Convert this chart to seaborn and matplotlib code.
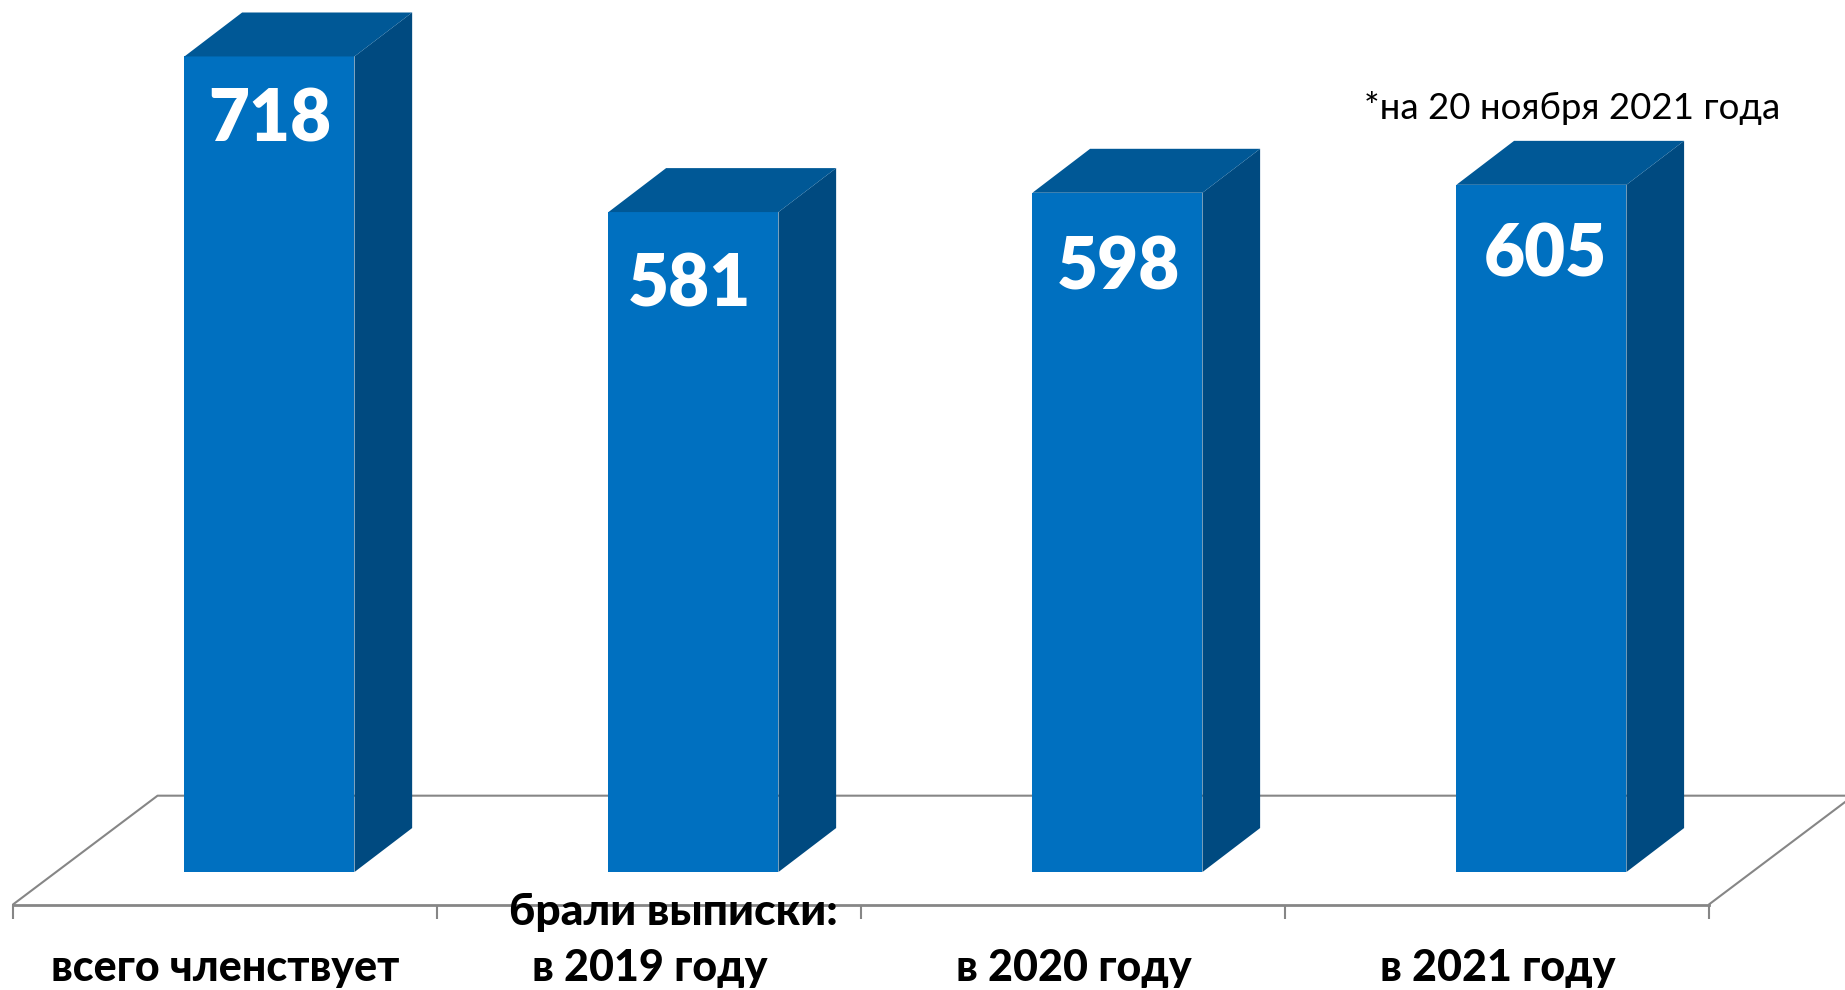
import pandas as pd
import matplotlib.pyplot as plt
import seaborn as sns

categories = ["всего членствует", "в 2019 году", "в 2020 году", "в 2021 году"]
values = [718, 581, 598, 605]
header = "брали выписки:"
note = "*на 20 ноября 2021 года"

# colours of the three faces
FRONT = "#0070C0"
SIDE = "#004A80"
TOP = "#005896"
FLOOR = "#868686"

# fake 3D depth, in data units
DEPTH_X = 0.136
DEPTH_Y = 38.7
FLOOR_Y = -28.6
FLOOR_BACK_Y = 67.2
FLOOR_LEFT = -0.605
FLOOR_DX = 0.341
SLOT_SHIFT = 0.104

# offset of each value label from the top centre of its bar (px)
label_dx = [0, -4, 1, 4]
label_dy = [-64, -73, -76, -71]

sns.set_theme(style="white")
plt.rcParams['font.family'] = ['Lato', 'Open Sans', 'DejaVu Sans']

fig = plt.figure(figsize=(18.45, 9.9), dpi=100)
ax = fig.add_axes([0, 1 - 904.5 / 990, 1, 904.5 / 990])
ax.patch.set_alpha(0)

df = pd.DataFrame({"cat": categories, "val": values})
sns.barplot(data=df, x="cat", y="val", color=FRONT, saturation=1, width=0.401, ax=ax, zorder=3, linewidth=0)

ax.set_xlim(-0.6356, 3.716)
ax.set_ylim(FLOOR_Y, 767.7)

# side and top faces come from the bars seaborn drew
for bar in ax.patches[:len(values)]:
    x0 = bar.get_x()
    x1 = x0 + bar.get_width()
    h = bar.get_height()
    ax.fill([x1, x1 + DEPTH_X, x1 + DEPTH_X, x1], [0, DEPTH_Y, h + DEPTH_Y, h], color=SIDE, lw=0, zorder=3)
    ax.fill([x0, x0 + DEPTH_X, x1 + DEPTH_X, x1], [h, h + DEPTH_Y, h + DEPTH_Y, h], color=TOP, lw=0, zorder=3)

# floor
n = len(values)
floor_right = FLOOR_LEFT + n
ax.plot([FLOOR_LEFT, FLOOR_LEFT + FLOOR_DX, floor_right + FLOOR_DX], [FLOOR_Y, FLOOR_BACK_Y, FLOOR_BACK_Y],
        color=FLOOR, lw=1.5, zorder=1, clip_on=False)
ax.plot([floor_right, floor_right + FLOOR_DX], [FLOOR_Y, FLOOR_BACK_Y], color=FLOOR, lw=1.5, zorder=1)

# x axis: labels in the middle of each slot, tick marks between the slots
sns.despine(ax=ax, left=True, right=True, top=True)
ax.spines['bottom'].set_bounds(FLOOR_LEFT, floor_right)
ax.spines['bottom'].set_color(FLOOR)
ax.spines['bottom'].set_linewidth(2)
ax.set_yticks([])
ax.set_xlabel("")
ax.set_ylabel("")
ax.set_xticks([i - SLOT_SHIFT for i in range(n)], categories)
ax.set_xticks([FLOOR_LEFT + i for i in range(n + 1)], minor=True)
ax.tick_params(axis='x', which='major', length=0, pad=31, labelsize=31, labelcolor='black')
ax.tick_params(axis='x', which='minor', length=10, width=1.5, color=FLOOR, bottom=True)
for lab in ax.get_xticklabels():
    lab.set_fontweight('black')

for i, bar in enumerate(ax.patches[:n]):
    ax.annotate(str(values[i]), (bar.get_x() + bar.get_width() / 2, values[i]),
                xytext=(label_dx[i] * 0.72, label_dy[i] * 0.72), textcoords='offset points',
                ha='center', va='center', color='white', fontsize=51, fontweight='heavy', zorder=5)

fig.text(673 / 1845, 1 - 912 / 990, header, ha='center', va='center', fontsize=32, fontweight='black', color='black')
fig.text(1572 / 1845, 1 - 108 / 990, note, ha='center', va='center', fontsize=26.4, color='black')

fig.savefig("out.png", dpi=100)
